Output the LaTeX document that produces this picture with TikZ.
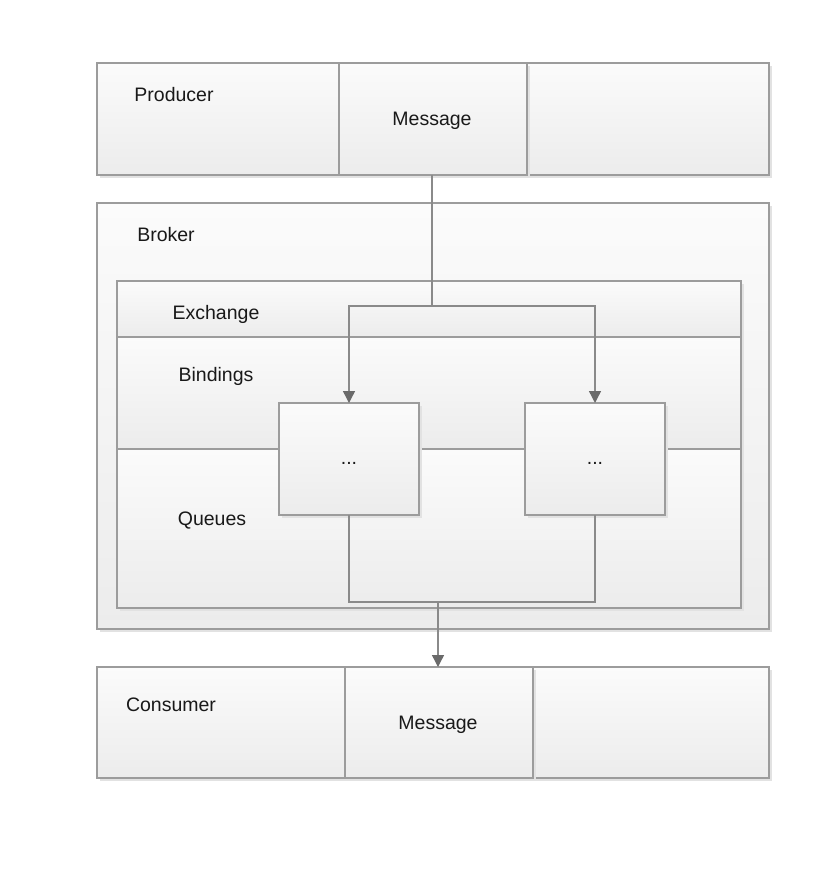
\documentclass[tikz,border=0pt]{standalone}
\usepackage{fontspec}
\setmainfont{Liberation Sans}
\usetikzlibrary{arrows.meta,shadows}
\definecolor{edgec}{HTML}{9C9C9C}
\definecolor{linec}{HTML}{8A8A8A}
\definecolor{arrowc}{HTML}{6A6A6A}
\definecolor{topc}{HTML}{FBFBFB}
\definecolor{botc}{HTML}{ECECEC}
\definecolor{shadc}{HTML}{E2E2E2}
\begin{document}
\begin{tikzpicture}[x=1pt,y=-1pt,
  box/.style={draw=edgec, line width=1.3pt, top color=topc, bottom color=botc,
    inner sep=0pt, outer sep=0pt, anchor=north west,
    drop shadow={shadow xshift=3pt, shadow yshift=-3pt, fill=shadc, opacity=1}},
  lbl/.style={inner sep=0pt, text=black!90, font=\fontsize{19.5}{23}\selectfont, yshift=-1.5pt},
  conn/.style={draw=linec, line width=1.4pt},
  arr/.style={conn, -{Triangle[length=12pt,width=12pt,color=arrowc]}}
]
\useasboundingbox (0,0) rectangle (812,896);
\fill[white] (0,0) rectangle (812,896);

% Producer
\node[box, minimum width=672pt, minimum height=112pt] (prod) at (97,63) {};
\node[box, minimum width=188pt, minimum height=112pt] (pmsg) at (339,63) {};
\node[lbl] (prodl) at (174,93) {Producer};
\node[lbl] (pmsgl) at (432,119) {Message};

% Broker
\node[box, minimum width=672pt, minimum height=426pt] (broker) at (97,203) {};
\node[lbl] (brokerl) at (166,233) {Broker};

\node[box, minimum width=624pt, minimum height=56pt] (exch) at (117,281) {};
\node[box, minimum width=624pt, minimum height=112pt] (bind) at (117,337) {};
\node[box, minimum width=624pt, minimum height=159pt] (queues) at (117,449) {};
\node[lbl] (exchl) at (216,313) {Exchange};
\node[lbl] (bindl) at (216,375) {Bindings};
\node[lbl] (queuesl) at (212,519) {Queues};

\node[box, minimum width=140pt, minimum height=112pt] (q1) at (279,403) {};
\node[box, minimum width=140pt, minimum height=112pt] (q2) at (525,403) {};
\node[lbl] (q1l) at (349,462) {...};
\node[lbl] (q2l) at (595,462) {...};

% Consumer
\node[box, minimum width=672pt, minimum height=111pt] (cons) at (97,667) {};
\node[box, minimum width=188pt, minimum height=111pt] (cmsg) at (345,667) {};
\node[lbl] (consl) at (171,703) {Consumer};
\node[lbl] (cmsgl) at (438,723) {Message};

% connectors
\coordinate (j1) at (432,306);
\coordinate (jl) at (349,306);
\coordinate (jr) at (595,306);
\coordinate (bl) at (349,602);
\coordinate (br) at (595,602);
\coordinate (bm) at (438,602);

\draw[conn] (pmsg.south -| j1) -- (j1);
\draw[arr] (j1) -- (jl) -- (q1.north);
\draw[arr] (j1) -- (jr) -- (q2.north);
\draw[conn] (q1.south) -- (bl) -- (br) -- (q2.south);
\draw[arr] (bm) -- (bm |- cmsg.north);
\end{tikzpicture}
\end{document}
